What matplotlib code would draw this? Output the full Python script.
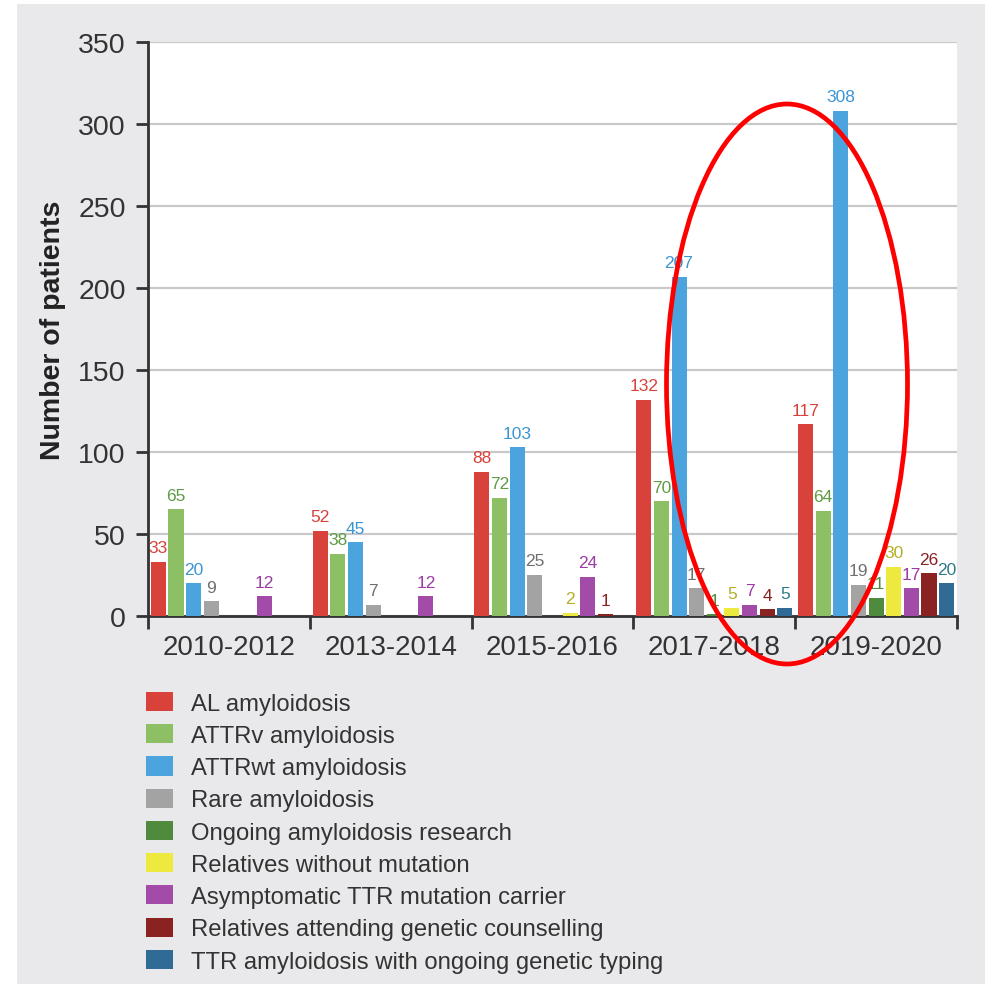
import numpy as np
import matplotlib
matplotlib.use("Agg")
import matplotlib.pyplot as plt
from matplotlib.patches import Patch, Rectangle, Ellipse

plt.rcParams['font.family'] = ['Liberation Sans Narrow', 'Liberation Sans', 'DejaVu Sans']

periods = ['2010-2012', '2013-2014', '2015-2016', '2017-2018', '2019-2020']
categories = ['AL amyloidosis', 'ATTRv amyloidosis', 'ATTRwt amyloidosis',
              'Rare amyloidosis', 'Ongoing amyloidosis research',
              'Relatives without mutation', 'Asymptomatic TTR mutation carrier',
              'Relatives attending genetic counselling',
              'TTR amyloidosis with ongoing genetic typing']

# patients per category, one list per period (0 = no bar)
counts_2010_2012 = [33, 65, 20, 9, 0, 0, 12, 0, 0]
counts_2013_2014 = [52, 38, 45, 7, 0, 0, 12, 0, 0]
counts_2015_2016 = [88, 72, 103, 25, 0, 2, 24, 1, 0]
counts_2017_2018 = [132, 70, 207, 17, 1, 5, 7, 4, 5]
counts_2019_2020 = [117, 64, 308, 19, 11, 30, 17, 26, 20]

bar_colors = ['#d8423b', '#8dc064', '#4ba4de', '#a3a3a3', '#4f8a3d',
              '#ede93e', '#a24ba9', '#8a2222', '#2f6b95']
text_colors = ['#d8423b', '#5f9a45', '#3b95d2', '#707070', '#4f8a3d',
               '#b5ae28', '#9a3ca3', '#8a2222', '#2f7a8a']

data = np.array([counts_2010_2012, counts_2013_2014, counts_2015_2016,
                 counts_2017_2018, counts_2019_2020])

fig = plt.figure(figsize=(9.92, 9.87), dpi=100, facecolor='white')
fig.patches.append(Rectangle((17 / 992, 1 - 985 / 987), 968 / 992, 980 / 987,
                             transform=fig.transFigure, facecolor='#e9e9eb',
                             edgecolor='none', zorder=-5))

ax = fig.add_axes([148 / 992, 1 - 617 / 987, 809 / 992, 574 / 987])
ax.set_facecolor('white')
ax.set_zorder(1)

step = 0.109
width = 0.093
x = np.arange(len(periods))
for j, cat in enumerate(categories):
    vals = data[:, j]
    xs = x + (j - 4) * step
    ax.bar(xs, vals, width=width, color=bar_colors[j], zorder=3)
    for xi, v in zip(xs, vals):
        if v > 0:
            ax.text(xi, v + 4, str(v), ha='center', va='bottom', fontsize=12.5,
                    color=text_colors[j], zorder=4)

ax.set_xlim(-0.5, len(periods) - 0.5)
ax.set_ylim(0, 350)
ax.set_yticks(np.arange(0, 351, 50))
ax.yaxis.grid(True, color='#c9c9c9', linewidth=1.6, zorder=0)
ax.set_axisbelow(True)

ax.set_xticks(x)
ax.set_xticklabels(periods, fontsize=20, color='#333333')
ax.set_xticks(np.arange(-0.5, len(periods)), minor=True)
ax.tick_params(axis='x', which='major', length=0, pad=13)
ax.tick_params(axis='x', which='minor', length=9, width=2, color='#333333')
ax.tick_params(axis='y', length=9, width=2, color='#333333', labelsize=20.5,
               labelcolor='#333333', pad=7)

for s in ['top', 'right']:
    ax.spines[s].set_visible(False)
for s in ['left', 'bottom']:
    ax.spines[s].set_linewidth(2)
    ax.spines[s].set_color('#333333')

ax.set_ylabel('Number of patients', fontsize=20.5, fontweight='bold',
              color='#222222', labelpad=9)

handles = [Patch(facecolor=c, edgecolor='none') for c in bar_colors]
fig.legend(handles, categories, loc='upper left',
           bbox_to_anchor=(146 / 992, 1 - 693 / 987), frameon=False,
           fontsize=17.2, labelcolor='#333333', handlelength=1.15,
           handleheight=0.85, handletextpad=0.75, labelspacing=0.395,
           borderpad=0, borderaxespad=0)

fig.add_artist(Ellipse((787 / 992, 1 - 385 / 987), 241 / 992, 560 / 987,
                       transform=fig.transFigure, fill=False,
                       edgecolor='#ff0000', linewidth=3.4, zorder=10))

fig.savefig('out.png', dpi=100, facecolor=fig.get_facecolor())
